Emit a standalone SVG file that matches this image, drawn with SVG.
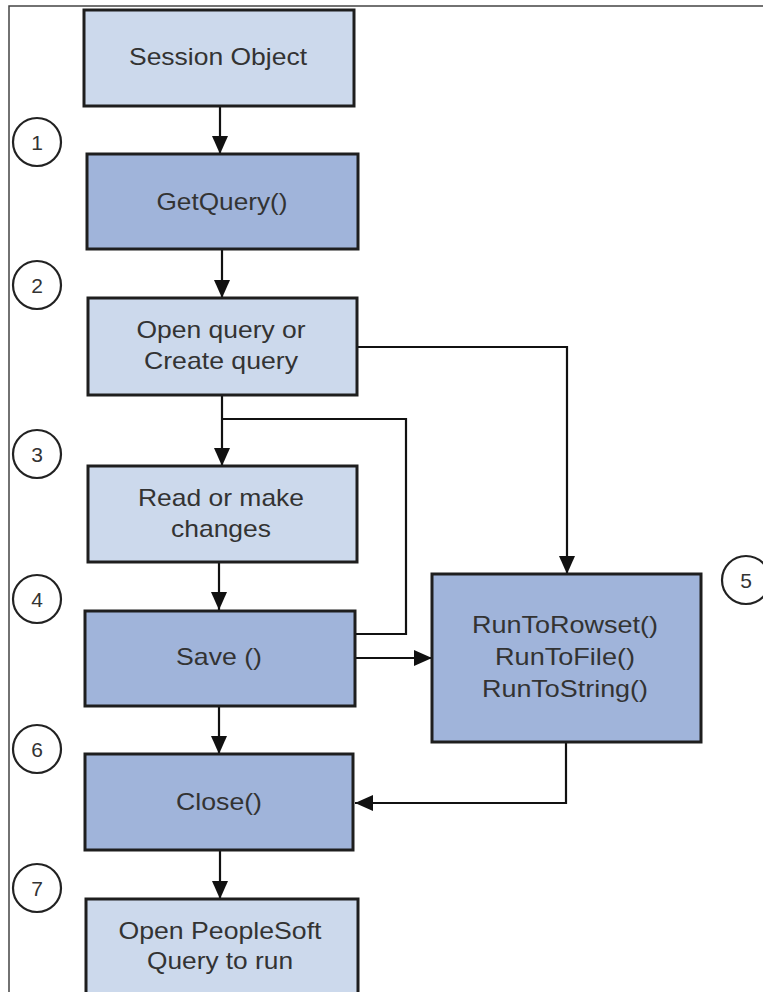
<svg xmlns="http://www.w3.org/2000/svg" width="763" height="992" viewBox="0 0 763 992">
<style>
.bl{fill:#CCD9EC;stroke:#1e1e1e;stroke-width:3}
.bd{fill:#A0B4DA;stroke:#1e1e1e;stroke-width:3}
.t{font-family:"Liberation Sans",Arial,sans-serif;font-size:24px;fill:#333;text-anchor:middle}
.n{font-family:"Liberation Sans",Arial,sans-serif;font-size:21px;fill:#333;text-anchor:middle}
.c{fill:#fff;stroke:#222;stroke-width:2.2}
.e{fill:none;stroke:#111;stroke-width:2.2}
</style>
<defs>
<marker id="ah" markerUnits="userSpaceOnUse" markerWidth="18" markerHeight="16" refX="18" refY="8" orient="auto">
<path d="M0,0 L18,8 L0,16 z" fill="#111"/>
</marker>
</defs>
<rect width="763" height="992" fill="#fff"/>
<path d="M9,992 L9,6 L763,6" fill="none" stroke="#444" stroke-width="1.5"/>
<g id="connectors">
<path class="e" d="M220,106 L220,154" marker-end="url(#ah)"/>
<path class="e" d="M222,249 L222,298" marker-end="url(#ah)"/>
<path class="e" d="M222,395 L222,466" marker-end="url(#ah)"/>
<path class="e" d="M219,562 L219,610" marker-end="url(#ah)"/>
<path class="e" d="M355,634 L406,634 L406,419 L222,419"/>
<path class="e" d="M357,347 L567,347 L567,574" marker-end="url(#ah)"/>
<path class="e" d="M355,658 L432,658" marker-end="url(#ah)"/>
<path class="e" d="M566,742 L566,803 L355,803" marker-end="url(#ah)"/>
<path class="e" d="M219,706 L219,754" marker-end="url(#ah)"/>
<path class="e" d="M220,850 L220,899" marker-end="url(#ah)"/>
</g>
<g id="session">
<rect class="bl" x="84" y="10" width="270" height="96"/>
<text class="t" x="218" y="65" textLength="178" lengthAdjust="spacingAndGlyphs">Session Object</text>
</g>
<g id="getquery">
<rect class="bd" x="87" y="154" width="271" height="95"/>
<text class="t" x="222" y="210" textLength="131" lengthAdjust="spacingAndGlyphs">GetQuery()</text>
</g>
<g id="open">
<rect class="bl" x="88" y="298" width="269" height="97"/>
<text class="t" x="221" y="338" textLength="169" lengthAdjust="spacingAndGlyphs">Open query or</text>
<text class="t" x="221" y="369" textLength="154" lengthAdjust="spacingAndGlyphs">Create query</text>
</g>
<g id="read">
<rect class="bl" x="88" y="466" width="269" height="96"/>
<text class="t" x="221" y="506" textLength="166" lengthAdjust="spacingAndGlyphs">Read or make</text>
<text class="t" x="221" y="537" textLength="100" lengthAdjust="spacingAndGlyphs">changes</text>
</g>
<g id="save">
<rect class="bd" x="85" y="611" width="270" height="95"/>
<text class="t" x="219" y="665" textLength="86" lengthAdjust="spacingAndGlyphs">Save ()</text>
</g>
<g id="run">
<rect class="bd" x="432" y="574" width="269" height="168"/>
<text class="t" x="565" y="633" textLength="186" lengthAdjust="spacingAndGlyphs">RunToRowset()</text>
<text class="t" x="565" y="665" textLength="140" lengthAdjust="spacingAndGlyphs">RunToFile()</text>
<text class="t" x="565" y="697" textLength="166" lengthAdjust="spacingAndGlyphs">RunToString()</text>
</g>
<g id="close">
<rect class="bd" x="85" y="754" width="268" height="96"/>
<text class="t" x="219" y="810" textLength="86" lengthAdjust="spacingAndGlyphs">Close()</text>
</g>
<g id="openps">
<rect class="bl" x="86" y="899" width="272" height="110"/>
<text class="t" x="220" y="939" textLength="203" lengthAdjust="spacingAndGlyphs">Open PeopleSoft</text>
<text class="t" x="220" y="969" textLength="146" lengthAdjust="spacingAndGlyphs">Query to run</text>
</g>
<g id="step1"><circle class="c" cx="37" cy="142" r="24"/><text class="n" x="37" y="150">1</text></g>
<g id="step2"><circle class="c" cx="37" cy="285" r="24"/><text class="n" x="37" y="293">2</text></g>
<g id="step3"><circle class="c" cx="37" cy="454" r="24"/><text class="n" x="37" y="462">3</text></g>
<g id="step4"><circle class="c" cx="37" cy="599" r="24"/><text class="n" x="37" y="607">4</text></g>
<g id="step5"><circle class="c" cx="746" cy="580" r="24"/><text class="n" x="746" y="588">5</text></g>
<g id="step6"><circle class="c" cx="37" cy="749" r="24"/><text class="n" x="37" y="757">6</text></g>
<g id="step7"><circle class="c" cx="37" cy="888" r="24"/><text class="n" x="37" y="896">7</text></g>
</svg>
